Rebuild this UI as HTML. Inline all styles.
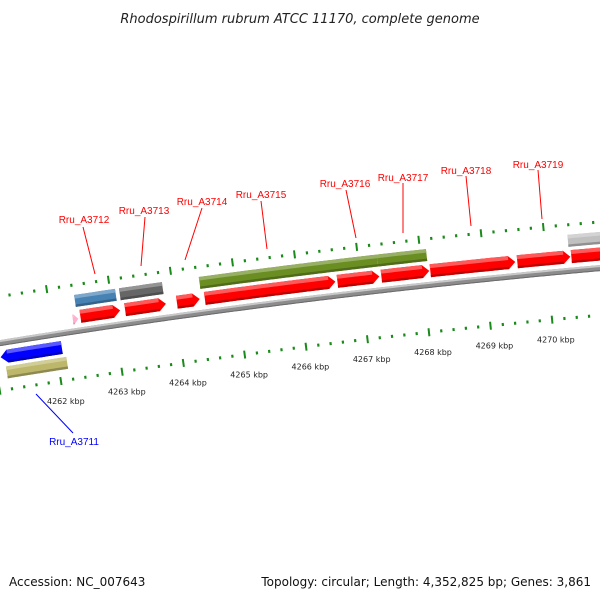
<!DOCTYPE html>
<html><head><meta charset="utf-8"><style>
html,body{margin:0;padding:0;background:#fff;}
svg{display:block;font-family:"DejaVu Sans","Liberation Sans",sans-serif;}
</style></head><body>
<svg id="map" width="600" height="600" viewBox="0 0 600 600" xmlns="http://www.w3.org/2000/svg">
<text x="300" y="23" text-anchor="middle" font-size="13" font-style="italic" fill="#222">Rhodospirillum rubrum ATCC 11170, complete genome</text>
<g id="ticks"></g>
<g id="backbone"></g>
<g id="features"></g>
<g id="labels" font-family="Liberation Sans, sans-serif" font-size="10">
<line x1="83" y1="227" x2="95" y2="274" stroke="#ff0000" stroke-width="1"/>
<text x="84" y="223" text-anchor="middle" fill="#ff0000">Rru_A3712</text>
<line x1="145" y1="217" x2="141" y2="266" stroke="#ff0000" stroke-width="1"/>
<text x="144" y="214" text-anchor="middle" fill="#ff0000">Rru_A3713</text>
<line x1="202" y1="208" x2="185" y2="260" stroke="#ff0000" stroke-width="1"/>
<text x="202" y="205" text-anchor="middle" fill="#ff0000">Rru_A3714</text>
<line x1="261" y1="201" x2="267" y2="249" stroke="#ff0000" stroke-width="1"/>
<text x="261" y="198" text-anchor="middle" fill="#ff0000">Rru_A3715</text>
<line x1="346" y1="190" x2="356" y2="238" stroke="#ff0000" stroke-width="1"/>
<text x="345" y="187" text-anchor="middle" fill="#ff0000">Rru_A3716</text>
<line x1="403" y1="183" x2="403" y2="233" stroke="#ff0000" stroke-width="1"/>
<text x="403" y="181" text-anchor="middle" fill="#ff0000">Rru_A3717</text>
<line x1="466" y1="176" x2="471" y2="226" stroke="#ff0000" stroke-width="1"/>
<text x="466" y="174" text-anchor="middle" fill="#ff0000">Rru_A3718</text>
<line x1="538" y1="170" x2="542" y2="219" stroke="#ff0000" stroke-width="1"/>
<text x="538" y="168" text-anchor="middle" fill="#ff0000">Rru_A3719</text>
<line x1="36" y1="394" x2="73" y2="433" stroke="#0000ff" stroke-width="1"/>
<text x="74" y="445" text-anchor="middle" fill="#0000ff">Rru_A3711</text>
</g>
<text x="9" y="586" font-size="12" fill="#111">Accession: NC_007643</text>
<text x="591" y="586" font-size="12" fill="#111" text-anchor="end">Topology: circular; Length: 4,352,825 bp; Genes: 3,861</text>
</svg>
<script>
// data
const tickStart = 4261000;
const tickEnd = 4272000;
const tickStep = 200;
const kbpLabels = [4262, 4263, 4264, 4265, 4266, 4267, 4268, 4269, 4270];
const fwdGeneStarts = [4262468, 4263193, 4264032, 4264484, 4266629, 4267339, 4268129, 4269532, 4270403];
const fwdGeneEnds   = [4263113, 4263855, 4264403, 4266597, 4267307, 4268113, 4269500, 4270387, 4271600];
const fwdGeneNames  = ['rru-a3712','rru-a3713','rru-a3714','rru-a3715','rru-a3716','rru-a3717','rru-a3718','rru-a3719','next-gene'];
const cogStarts = [4262419, 4263145, 4264435, 4267307, 4270371];
const cogEnds   = [4263081, 4263839, 4267307, 4268097, 4271600];
const cogColors = ['#4682b4', '#666666', '#6b8e23', '#6b8e23', '#c0c0c0'];
const revGeneStarts = [4261100];
const revGeneEnds = [4262097];
const revCogStarts = [4261160];
const revCogEnds = [4262145];
const pinkStart = 4262340, pinkEnd = 4262430;

// geometry
const CX = 1329, CY = 8534, R0 = 8298;
const PHI0 = -0.1468, K = 7.5e-6, B0 = 4263000;
function P(bp, r){ const a = PHI0 + (bp - B0) * K; return [CX + r * Math.sin(a), CY - r * Math.cos(a)]; }
function arcPts(b1, b2, r){ const pts=[]; const n=Math.max(2, Math.ceil((b2-b1)/60)); for(let i=0;i<=n;i++){pts.push(P(b1+(b2-b1)*i/n, r));} return pts; }
const NS='http://www.w3.org/2000/svg';
function poly(parent, pts, fill){ const p=document.createElementNS(NS,'polygon'); p.setAttribute('points', pts.map(q=>q[0].toFixed(2)+','+q[1].toFixed(2)).join(' ')); p.setAttribute('fill', fill); parent.appendChild(p); return p; }
function band(parent, b1, b2, r1, r2, fill){ return poly(parent, arcPts(b1,b2,r2).concat(arcPts(b1,b2,r1).reverse()), fill); }
function shade(c, f){ const n=parseInt(c.slice(1),16); let r=n>>16,g=(n>>8)&255,b=n&255; const m=v=>Math.max(0,Math.min(255,Math.round(f>1? v+(255-v)*(f-1): v*f))); return 'rgb('+m(r)+','+m(g)+','+m(b)+')'; }
function arrow(parent, b1, b2, rc, h, color, dir){
  const g=document.createElementNS(NS,'g'); parent.appendChild(g);
  const head = Math.min(110, (b2-b1)*0.8);
  const rt=rc+h/2, rb=rc-h/2;
  let pts;
  if(dir>0){ pts = arcPts(b1,b2-head,rt).concat([P(b2,rc)]).concat(arcPts(b1,b2-head,rb).reverse()); }
  else { pts = [P(b1,rc)].concat(arcPts(b1+head,b2,rt)).concat(arcPts(b1+head,b2,rb).reverse()); }
  poly(g, pts, color);
  const s1 = dir>0? b1 : b1+head, s2 = dir>0? b2-head : b2;
  band(g, s1, s2, rt-h*0.3, rt, shade(color,1.35));
  band(g, s1, s2, rb, rb+h*0.18, shade(color,0.75));
  return g;
}
function block(parent, b1, b2, rc, h, color){
  const g=document.createElementNS(NS,'g'); parent.appendChild(g);
  band(g,b1,b2,rc-h/2,rc+h/2,color);
  band(g,b1,b2,rc+h/2-h*0.3,rc+h/2,shade(color,1.3));
  band(g,b1,b2,rc-h/2,rc-h/2+h*0.2,shade(color,0.75));
  return g;
}

// backbone
const bbG = document.getElementById('backbone');
band(bbG, 4260500, 4272500, R0-3, R0+3, '#8c8c8c');
band(bbG, 4260500, 4272500, R0+1, R0+3, '#c8c8c8');
band(bbG, 4260500, 4272500, R0-3, R0-2, '#6a6a6a');

// ticks
const tG = document.getElementById('ticks');
for(let bp=tickStart; bp<=tickEnd; bp+=tickStep){
  const major = bp % 1000 === 0;
  [8344, 8251].forEach(function(r){
    const len = major? 8 : 3;
    const a = P(bp, r-len/2), b = P(bp, r+len/2);
    const l = document.createElementNS(NS,'line');
    l.setAttribute('x1',a[0]); l.setAttribute('y1',a[1]); l.setAttribute('x2',b[0]); l.setAttribute('y2',b[1]);
    l.setAttribute('stroke','#1a8a1a'); l.setAttribute('stroke-width', major? 2 : 2.2);
    
    
    tG.appendChild(l);
  });
}
kbpLabels.forEach(function(k){
  const p = P(k*1000, 8232);
  const t = document.createElementNS(NS,'text');
  t.setAttribute('x', p[0]+2); t.setAttribute('y', p[1]+4);
  t.setAttribute('text-anchor','middle'); t.setAttribute('font-size','8'); t.setAttribute('fill','#222');
  
  
  t.textContent = k + ' kbp';
  tG.appendChild(t);
});

// features
const fG = document.getElementById('features');
cogStarts.forEach(function(s,i){
  const g = block(fG, s, cogEnds[i], 8328, 12, cogColors[i]);
  
  
});
fwdGeneStarts.forEach(function(s,i){
  const g = arrow(fG, s, fwdGeneEnds[i], 8312, 13, '#ff0000', 1);
  
  
});
(function(){
  const g = arrow(fG, pinkStart, pinkEnd, 8310, 10, '#ffb0d0', 1);
  
  
})();
revGeneStarts.forEach(function(s,i){
  const g = arrow(fG, s, revGeneEnds[i], 8284, 13, '#0000ff', -1);
  
  
});
revCogStarts.forEach(function(s,i){
  const g = block(fG, s, revCogEnds[i], 8268, 12, '#bdb76b');
  
  
});
</script>
</body></html>
